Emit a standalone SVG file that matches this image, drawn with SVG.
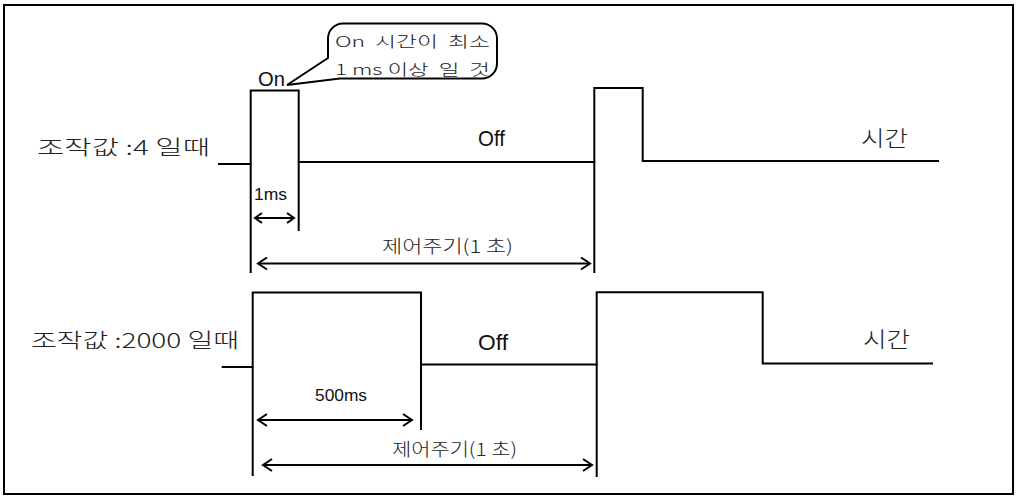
<svg xmlns="http://www.w3.org/2000/svg" width="1016" height="496" viewBox="0 0 1016 496">
<style>
.wave{fill:none;stroke:#000;stroke-width:2}
.ext{fill:none;stroke:#000;stroke-width:2}
.dim{fill:none;stroke:#000;stroke-width:2}
.kr{font-family:"Noto Sans CJK KR","Noto Sans",sans-serif;font-weight:300;fill:#222}
.lat{font-family:"Liberation Sans Narrow","Liberation Sans",Arial,sans-serif;fill:#111}
</style>
<defs>
<marker id="ah" markerUnits="userSpaceOnUse" viewBox="-10 -7 12 14" markerWidth="12" markerHeight="14" refX="0" refY="0" orient="auto-start-reverse">
<path d="M-9,-6 L0,0 L-9,6" fill="none" stroke="#000" stroke-width="2"/>
</marker>
<marker id="ahs" markerUnits="userSpaceOnUse" viewBox="-10 -7 12 14" markerWidth="12" markerHeight="14" refX="0" refY="0" orient="auto-start-reverse">
<path d="M-7,-5 L0,0 L-7,5" fill="none" stroke="#000" stroke-width="2"/>
</marker>
</defs>
<rect id="frame" x="4" y="5" width="1009" height="489" fill="#fff" stroke="#000" stroke-width="2"/>

<g id="labels">
<text class="kr" x="37" y="155" font-size="20" textLength="173" lengthAdjust="spacingAndGlyphs">조작값 :4 일때</text>
<text class="kr" x="31" y="348" font-size="20" textLength="208" lengthAdjust="spacingAndGlyphs">조작값 :2000 일때</text>
</g>

<g id="callout">
<path d="M343,23.5 H482 A15,15 0 0 1 497,38.5 V63.5 A15,15 0 0 1 482,78.5 H340 L287,85 L328,58 V38.5 A15,15 0 0 1 343,23.5 Z" fill="#fff" stroke="#000" stroke-width="2"/>
<text class="kr" x="335" y="47" font-size="15" textLength="155" lengthAdjust="spacingAndGlyphs" xml:space="preserve">On  시간이  최소</text>
<text class="kr" x="335" y="75" font-size="15" textLength="155" lengthAdjust="spacingAndGlyphs" xml:space="preserve">1 ms 이상  일  것</text>
</g>

<g id="wave-top">
<path class="wave" d="M218,164 H250.7 V90.5 H298.7 V162 H594.3 V88 H642.7 V161 H939"/>
<text class="lat" x="258" y="86" font-size="21" textLength="27" lengthAdjust="spacingAndGlyphs">On</text>
<text class="lat" x="478" y="146" font-size="22" textLength="27" lengthAdjust="spacingAndGlyphs">Off</text>
<text class="kr" x="861" y="146" font-size="22" textLength="47" lengthAdjust="spacingAndGlyphs">시간</text>
</g>

<g id="wave-bottom">
<path class="wave" d="M221.7,367 H252.7 V292.5 H421 V364.5 H596.7 V292.3 H762.7 V363.5 H933"/>
<text class="lat" x="478" y="350" font-size="22" textLength="30" lengthAdjust="spacingAndGlyphs">Off</text>
<text class="kr" x="863" y="347" font-size="22" textLength="47" lengthAdjust="spacingAndGlyphs">시간</text>
</g>

<g id="connectors">
<line class="ext" x1="250.7" y1="164" x2="250.7" y2="273"/>
<line class="ext" x1="298.7" y1="162" x2="298.7" y2="231"/>
<line class="ext" x1="594.3" y1="161" x2="594.3" y2="273"/>
<line class="ext" x1="252.7" y1="367" x2="252.7" y2="476"/>
<line class="ext" x1="421" y1="364.5" x2="421" y2="430"/>
<line class="ext" x1="596.7" y1="364" x2="596.7" y2="477"/>
<line class="dim" x1="255" y1="218" x2="294" y2="218" marker-start="url(#ahs)" marker-end="url(#ahs)"/>
<line class="dim" x1="258" y1="263.5" x2="590" y2="263.5" marker-start="url(#ah)" marker-end="url(#ah)"/>
<line class="dim" x1="258" y1="420" x2="412" y2="420" marker-start="url(#ah)" marker-end="url(#ah)"/>
<line class="dim" x1="263" y1="465" x2="592" y2="465" marker-start="url(#ah)" marker-end="url(#ah)"/>
</g>

<g id="dim-labels">
<text class="lat" x="254" y="200" font-size="17" textLength="33" lengthAdjust="spacingAndGlyphs">1ms</text>
<text class="kr" x="382" y="253" font-size="18" textLength="131" lengthAdjust="spacingAndGlyphs">제어주기(1 초)</text>
<text class="lat" x="315" y="401" font-size="17" textLength="52" lengthAdjust="spacingAndGlyphs">500ms</text>
<text class="kr" x="392" y="456" font-size="18" textLength="125" lengthAdjust="spacingAndGlyphs">제어주기(1 초)</text>
</g>
</svg>
